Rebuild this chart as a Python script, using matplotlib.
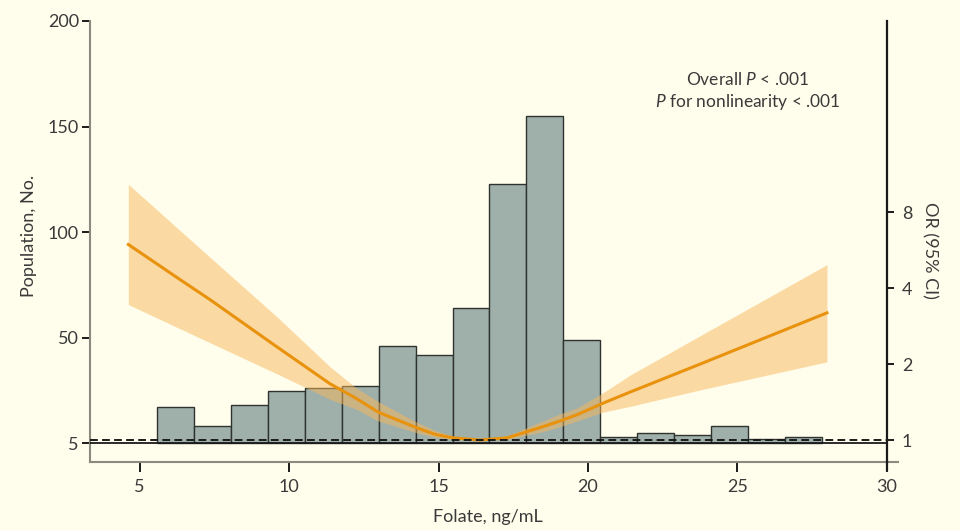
import numpy as np
import matplotlib
matplotlib.use("Agg")
import matplotlib.pyplot as plt
from matplotlib.lines import Line2D

plt.rcParams['font.family'] = ['Lato', 'DejaVu Sans']
plt.rcParams['mathtext.fontset'] = 'custom'
plt.rcParams['mathtext.rm'] = 'Lato'
plt.rcParams['mathtext.it'] = 'Lato:italic'

# histogram of folate (ng/mL)
bin_start = 5.59
bin_width = 1.235
counts = [17, 8, 18, 25, 26, 27, 46, 42, 64, 123, 155, 49, 3, 5, 4, 8, 2, 3]

# spline OR curve with 95% CI
folate = [4.62, 6.35, 7.35, 9.59, 11.37, 12.21, 12.98, 14.25, 14.89, 15.49, 16.39,
          17.30, 18.50, 19.07, 19.64, 20.51, 21.42, 23.76, 28.0]
or_est = [5.95, 4.32, 3.60, 2.34, 1.67, 1.47, 1.29, 1.12, 1.053, 1.02, 1.00,
          1.02, 1.13, 1.19, 1.26, 1.40, 1.55, 2.00, 3.19]
or_hi = [10.3, 6.76, 5.30, 3.08, 1.95, 1.62, 1.42, 1.18, 1.09, 1.035, 1.00,
         1.04, 1.19, 1.27, 1.34, 1.54, 1.81, 2.59, 4.95]
or_lo = [3.44, 2.76, 2.43, 1.83, 1.45, 1.33, 1.19, 1.07, 1.025, 1.005, 1.00,
         1.005, 1.08, 1.13, 1.19, 1.29, 1.36, 1.58, 2.04]

pop_ticks = [0, 50, 100, 150, 200]
pop_labels = ['5', '50', '100', '150', '200']
or_ticks = [1, 2, 4, 8]
x_ticks = [5, 10, 15, 20, 25, 30]

bg = '#FFFDEB'
txt = '#3a3a3a'

fig = plt.figure(figsize=(9.6, 5.3), dpi=100, facecolor=bg)
ax = fig.add_axes([0.09375, 0.1277, 0.8299, 0.8327])
ax.set_facecolor(bg)

lefts = bin_start + bin_width * np.arange(len(counts))
ax.bar(lefts, counts, width=bin_width, align='edge', color='#9FB0AB',
       edgecolor='#2e3330', linewidth=1.0, zorder=2)
ax.axhline(0, color='#1a1a1a', lw=1.3, zorder=3)

ax.set_xlim(3.336, 30)
ax.set_ylim(-9, 200)
ax.set_xticks(x_ticks)
ax.set_yticks(pop_ticks)
ax.set_yticklabels(pop_labels)
ax.tick_params(axis='both', direction='out', colors='#1a1a1a', labelcolor=txt,
               labelsize=13, width=1.4)
ax.tick_params(axis='y', length=6, pad=2)
ax.tick_params(axis='x', length=7, pad=5)
for s in ['top', 'right']:
    ax.spines[s].set_visible(False)
for s in ['left', 'bottom']:
    ax.spines[s].set_color('#8a8a7e')
    ax.spines[s].set_linewidth(1.5)

ax.set_xlabel('Folate, ng/mL', fontsize=13, color=txt)
ax.xaxis.set_label_coords(0.5, -0.106)
ax.set_ylabel('Population, No.', fontsize=13, color=txt)
ax.yaxis.set_label_coords(-0.066, 0.513)

# OR axis
ax2 = ax.twinx()
ax2.set_yscale('log', base=2)
ax2.set_ylim(0.816, 45.7)
ax2.fill_between(folate, or_lo, or_hi, color='#F9B65A', alpha=0.5, lw=0, zorder=2)
ax2.plot(folate, or_est, color='#E8920E', lw=2.2, zorder=3)
ax2.axhline(1, color='#1a1a1a', lw=1.4, ls=(0, (4, 2.2)), zorder=4)
ax2.set_yticks(or_ticks)
ax2.set_yticklabels([str(t) for t in or_ticks])
ax2.minorticks_off()
ax2.tick_params(axis='y', direction='out', length=5, width=1.4, pad=6,
                colors='#1a1a1a', labelcolor=txt, labelsize=13)
for s in ['top', 'left', 'bottom']:
    ax2.spines[s].set_visible(False)
ax2.spines['right'].set_color('#1a1a1a')
ax2.spines['right'].set_linewidth(1.6)
ax2.set_ylabel('OR (95% CI)', fontsize=13, color=txt, rotation=270)
ax2.yaxis.set_label_coords(1.064, 0.481)

# spine overhangs at bottom-right corner
ax.add_line(Line2D([1, 1.014], [0, 0], transform=ax.transAxes, color='#8a8a7e',
                   lw=1.5, clip_on=False))
ax.add_line(Line2D([1, 1], [0, -0.018], transform=ax.transAxes, color='#1a1a1a',
                   lw=1.6, clip_on=False))

ax2.text(0.826, 0.841, 'Overall $\\mathit{P}$ < .001\n$\\mathit{P}$ for nonlinearity < .001',
         transform=ax.transAxes, ha='center', va='center', fontsize=12.5,
         color=txt, linespacing=1.25)

fig.savefig('out.png', dpi=100, facecolor=bg)
